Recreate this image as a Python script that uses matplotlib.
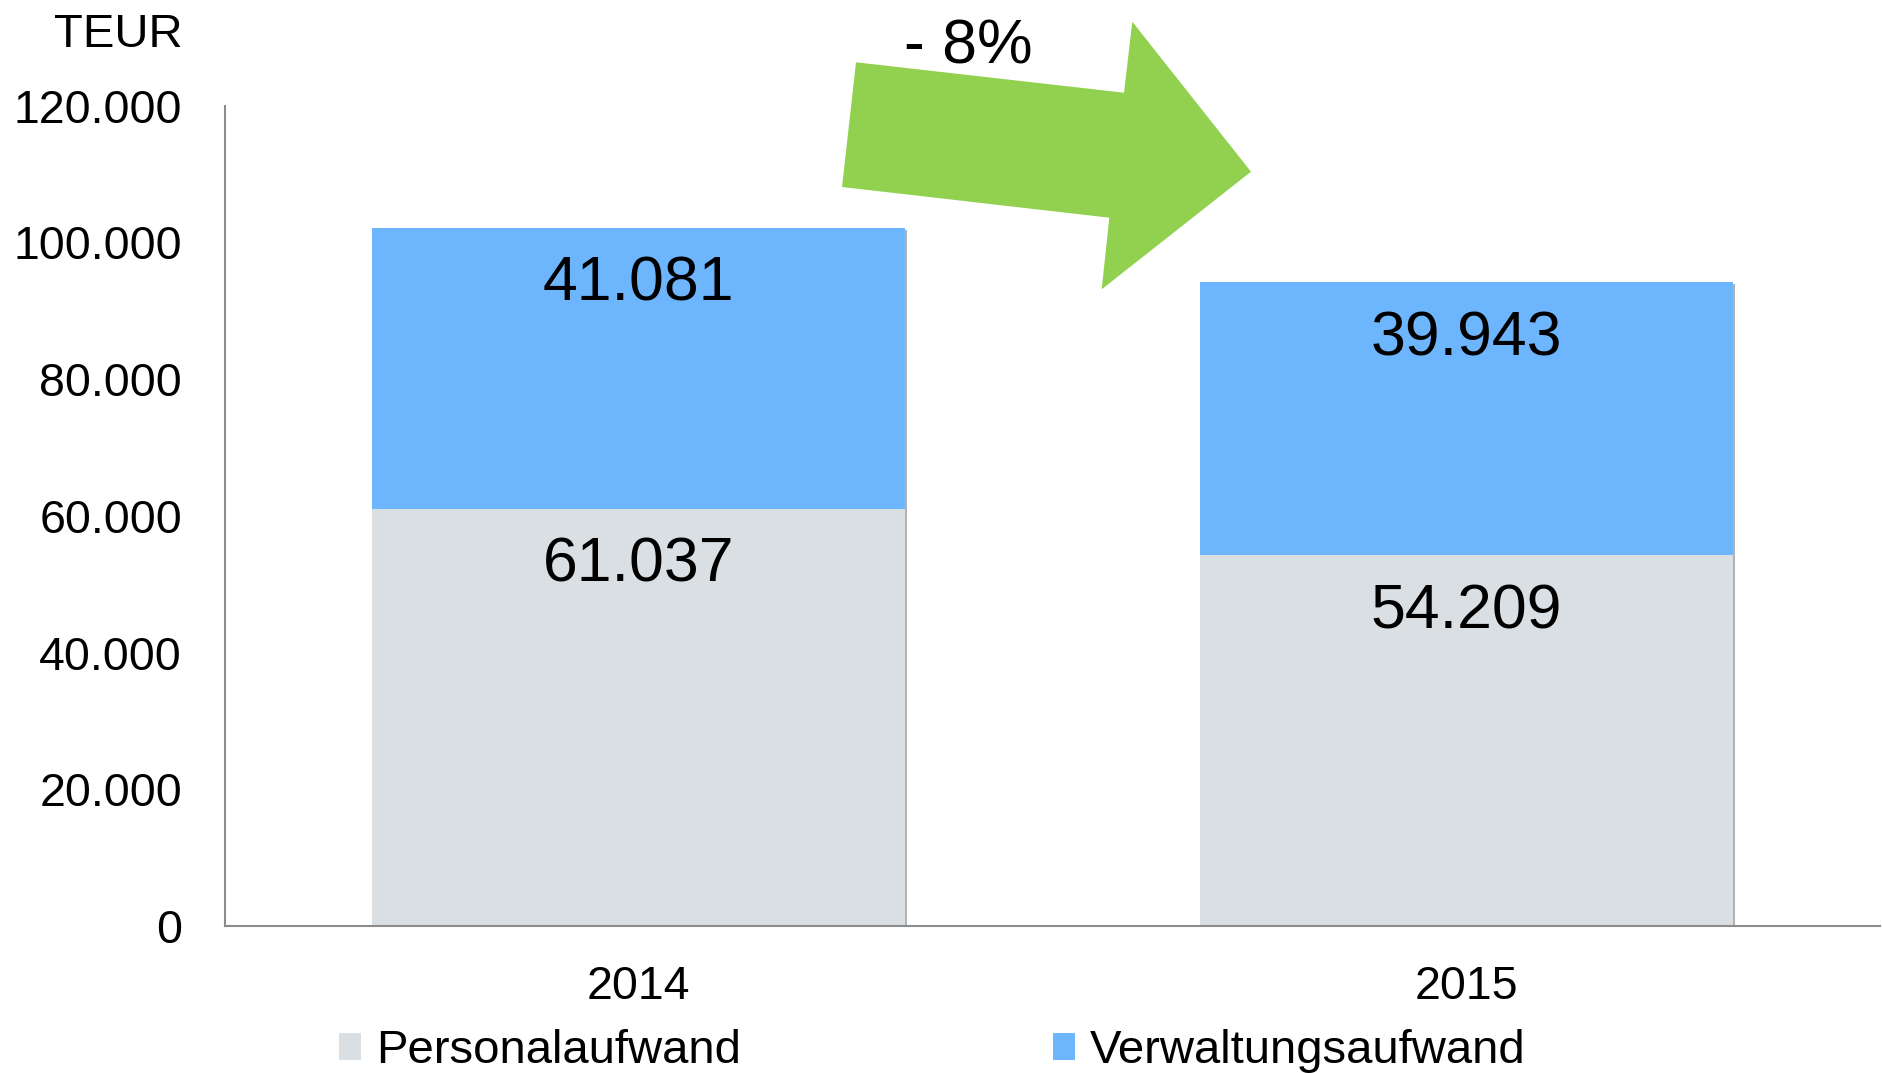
import numpy as np
import matplotlib
matplotlib.use('Agg')
import matplotlib.pyplot as plt
import matplotlib.patheffects as pe
from matplotlib.patches import Polygon
from matplotlib.transforms import Affine2D

plt.rcParams['font.family'] = ['Liberation Sans', 'DejaVu Sans']

# data
years = ['2014', '2015']
personal = [61037, 54209]
verwaltung = [41081, 39943]
series_names = ['Personalaufwand', 'Verwaltungsaufwand']
y_ticks = [0, 20000, 40000, 60000, 80000, 100000, 120000]
change_label = '- 8%'
unit_label = 'TEUR'

c_gray = '#DADFE3'
c_blue = '#6DB5FD'
c_green = '#92D050'
c_axis = '#8C8C8C'

W, H = 1883, 1073
fig = plt.figure(figsize=(W / 100, H / 100), dpi=100)
ax = fig.add_axes([225 / W, 1 - 926 / H, (1880 - 225) / W, (926 - 105.7) / H])

x = np.arange(len(years))
bw = 0.644
shadow = [pe.SimplePatchShadow(offset=(1.5, -1.5), shadow_rgbFace='#666666', alpha=0.5), pe.Normal()]

b2 = ax.bar(x, verwaltung, bw, bottom=personal, color=c_blue, zorder=2,
            label=series_names[1])
b1 = ax.bar(x, personal, bw, color=c_gray, zorder=3, label=series_names[0])
for p in list(b1) + list(b2):
    p.set_path_effects(shadow)

# value labels, near top of each segment
for i in range(len(years)):
    ax.annotate(f'{personal[i]:,}'.replace(',', '.'), (x[i], personal[i]),
                xytext=(0, -73), textcoords='offset pixels', ha='center',
                va='baseline', fontsize=45, zorder=5)
    ax.annotate(f'{verwaltung[i]:,}'.replace(',', '.'), (x[i], personal[i] + verwaltung[i]),
                xytext=(0, -73), textcoords='offset pixels', ha='center',
                va='baseline', fontsize=45, zorder=5)

ax.set_xlim(-0.5, 1.5)
ax.set_ylim(0, 120000)
ax.set_xticks(x)
ax.set_xticklabels(years)
ax.set_yticks(y_ticks)
ax.set_yticklabels([f'{v:,}'.replace(',', '.') for v in y_ticks])
ax.tick_params(axis='y', length=0, pad=31, labelsize=33.5)
ax.tick_params(axis='x', length=0, pad=28, labelsize=33.5)

for s in ['top', 'right']:
    ax.spines[s].set_visible(False)
for s in ['left', 'bottom']:
    ax.spines[s].set_color(c_axis)
    ax.spines[s].set_linewidth(1.5)
ax.spines['bottom'].set_zorder(4)

# helper transform: pixel coords from top-left of the figure
px = Affine2D().scale(1 / W, -1 / H).translate(0, 1) + fig.transFigure

fig.text(183, 47, unit_label, transform=px, ha='right', va='baseline', fontsize=34)

# big green arrow
arrow = [(856, 62.3), (1124, 92.7), (1132.3, 21.7), (1251, 171.7),
         (1101.7, 289.3), (1109.3, 217.7), (842, 187)]
fig.patches.append(Polygon(arrow, closed=True, transform=px, facecolor=c_green,
                           edgecolor='none'))
fig.text(968, 63, change_label, transform=px, ha='center', va='baseline', fontsize=45)

leg = fig.legend(handles=[b1, b2], labels=series_names, loc='center left',
                 bbox_to_anchor=(339 / W, 1 - 1051 / H), ncol=2, frameon=False,
                 fontsize=34, handlelength=0.47, handleheight=0.5,
                 handletextpad=0.32, columnspacing=6.6, borderpad=0, borderaxespad=0)
for h in leg.legend_handles:
    h.set_path_effects([])

fig.savefig('out.png', dpi=100)
